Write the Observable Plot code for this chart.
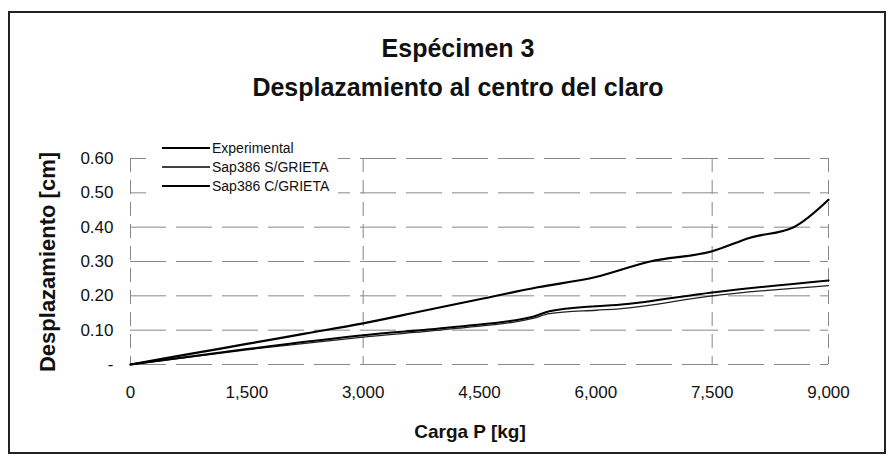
<!DOCTYPE html>
<html>
<head>
<meta charset="utf-8">
<script src="https://cdn.jsdelivr.net/npm/d3@7"></script>
<script src="https://cdn.jsdelivr.net/npm/@observablehq/plot@0.6"></script>
<style>
  html, body { margin: 0; padding: 0; background: #fff; }
  #wrap { position: relative; width: 892px; height: 469px; overflow: hidden; font-family: "Liberation Sans", Arial, sans-serif; color: #111; }
  #border { position: absolute; left: 8px; top: 11px; width: 874px; height: 439px; border: 2px solid #222; pointer-events: none; }
  .title { position: absolute; left: 0; width: 916px; text-align: center; font-weight: bold; font-size: 25px; white-space: nowrap; }
  #ylab { position: absolute; left: 48px; top: 262px; transform: translate(-50%, -50%) rotate(-90deg); font-weight: bold; font-size: 22px; white-space: nowrap; }
  #xlab { position: absolute; left: 470px; top: 432px; transform: translate(-50%, -50%); font-weight: bold; font-size: 19px; white-space: nowrap; }
  #legend { position: absolute; left: 146px; top: 138px; width: 192px; height: 58px; background: #fff; }
  .row { position: absolute; left: 16px; height: 18px; display: flex; align-items: center; font-size: 14px; white-space: nowrap; }
  .row svg { margin-right: 2px; }
  #chart { position: absolute; left: 0; top: 0; }
</style>
</head>
<body>
<div id="wrap">
  <div id="chart"></div>
  <div id="border"></div>
  <div class="title" style="top:34px">Espécimen 3</div>
  <div class="title" style="top:73px">Desplazamiento al centro del claro</div>
  <div id="ylab">Desplazamiento [cm]</div>
  <div id="xlab">Carga P [kg]</div>
  <div id="legend"></div>
</div>
<script>
// Data (load in kg, displacement in cm)
const expLoad = [0, 750, 1500, 2250, 3000, 3750, 4500, 5250, 6000, 6700, 7500, 8000, 8550, 9000];
const expDisp = [0, 0.03, 0.06, 0.09, 0.12, 0.155, 0.19, 0.225, 0.255, 0.30, 0.33, 0.37, 0.40, 0.48];

const sapLoad = [0, 1500, 3000, 4200, 5200, 5400, 6000, 6300, 7500, 9000];
const sapSDisp = [0, 0.043, 0.08, 0.105, 0.135, 0.148, 0.158, 0.162, 0.20, 0.23];
const sapCDisp = [0, 0.045, 0.085, 0.11, 0.14, 0.155, 0.17, 0.174, 0.21, 0.245];

const seriesNames = ["Experimental", "Sap386 S/GRIETA", "Sap386 C/GRIETA"];
const xTicks = [0, 1500, 3000, 4500, 6000, 7500, 9000];
const yTicks = [0, 0.1, 0.2, 0.3, 0.4, 0.5, 0.6];
const xGrid = [0, 3000, 7500, 9000];

const expData = expLoad.map((x, i) => ({x, y: expDisp[i]}));
const sData = sapLoad.map((x, i) => ({x, y: sapSDisp[i]}));
const cData = sapLoad.map((x, i) => ({x, y: sapCDisp[i]}));

const chart = Plot.plot({
  width: 892,
  height: 469,
  marginLeft: 130,
  marginRight: 64,
  marginTop: 158,
  marginBottom: 105,
  style: {fontFamily: "'Liberation Sans', Arial, sans-serif", fontSize: "17px", color: "#111", background: "transparent"},
  x: {domain: [0, 9000]},
  y: {domain: [0, 0.6]},
  marks: [
    Plot.ruleY(yTicks, {stroke: "#888", strokeWidth: 1, strokeDasharray: "36,10"}),
    Plot.ruleX(xGrid, {stroke: "#888", strokeWidth: 1, strokeDasharray: "14,8"}),
    Plot.line(sData, {x: "x", y: "y", stroke: "#222", strokeWidth: 1.3, curve: "monotone-x"}),
    Plot.line(cData, {x: "x", y: "y", stroke: "#000", strokeWidth: 2, curve: "monotone-x"}),
    Plot.line(expData, {x: "x", y: "y", stroke: "#000", strokeWidth: 2.2, curve: "monotone-x"}),
    Plot.axisX({ticks: xTicks, tickSize: 0, tickPadding: 21, tickFormat: d3.format(","), label: null, fontSize: 17}),
    Plot.axisY({ticks: yTicks, tickSize: 0, tickPadding: 17, tickFormat: d => d === 0 ? "-" : d.toFixed(2), label: null, fontSize: 17})
  ]
});
document.getElementById("chart").appendChild(chart);

// Legend
const legend = document.getElementById("legend");
const rowTops = [1, 20, 39];
seriesNames.forEach((name, i) => {
  const row = document.createElement("div");
  row.className = "row";
  row.style.top = rowTops[i] + "px";
  const w = i === 1 ? 1.3 : 2;
  row.innerHTML = `<svg width="48" height="18"><line x1="0" y1="9" x2="48" y2="9" stroke="#000" stroke-width="${w}"/></svg><span>${name}</span>`;
  legend.appendChild(row);
});
</script>
</body>
</html>
